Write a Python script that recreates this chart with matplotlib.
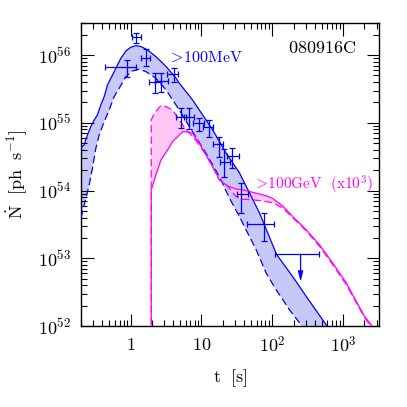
import matplotlib
matplotlib.use("Agg")
import matplotlib.pyplot as plt
import numpy as np

plt.rcParams['mathtext.fontset'] = 'cm'
plt.rcParams['font.family'] = 'serif'

# >100 MeV model band (upper = solid, lower = dashed)
t_hi = [0.20, 0.221, 0.246, 0.275, 0.307, 0.341, 0.381, 0.425, 0.473, 0.528, 0.621, 0.731,
        0.861, 1.01, 1.19, 1.40, 1.74, 2.28, 3.17, 4.39, 4.88, 7.5, 14.4, 22.4, 34.5, 66.1,
        115, 196, 303, 581, 640]
n_hi = [4.3e54, 4.7e54, 6.6e54, 8.8e54, 1.10e55, 1.31e55, 1.84e55, 2.44e55, 3.63e55, 4.56e55,
        6.4e55, 9.0e55, 1.15e56, 1.31e56, 1.38e56, 1.34e56, 1.19e56, 9.5e55, 6.8e55, 4.56e55,
        3.85e55, 2.18e55, 7.9e54, 3.56e54, 1.82e54, 4.67e53, 1.14e53, 5.3e52, 2.71e52, 1.03e52,
        8.7e51]
t_lo = [0.20, 0.234, 0.261, 0.290, 0.324, 0.361, 0.425, 0.500, 0.588, 0.692, 0.861, 1.07,
        1.33, 1.65, 2.28, 3.17, 3.93, 4.88, 6.77, 11.6, 18.0, 24.9, 34.5, 42.8, 59.4, 82.3,
        114, 176, 257, 277]
n_lo = [3.94e53, 7.7e53, 1.21e54, 2.13e54, 4.2e54, 6.6e54, 1.04e55, 1.55e55, 2.44e55, 3.24e55,
        4.82e55, 5.85e55, 6.2e55, 5.7e55, 4.56e55, 3.06e55, 2.18e55, 1.55e55, 8.8e54, 3.56e54,
        1.60e54, 7.7e53, 4.1e53, 2.62e53, 1.33e53, 6.0e52, 3.40e52, 1.72e52, 1.03e52, 8.7e51]

# >100 GeV model (x10^3), solid and dashed
t_gs = [1.96, 1.96, 2.28, 2.69, 3.34, 3.93, 5.44, 6.77, 7.53, 9.37, 11.6, 14.4, 18.0, 23.3,
        30.3, 38.4, 53.2, 82.3, 102, 141, 196, 303, 467, 719, 1114, 1542, 2023, 2512, 2700]
n_gs = [5e51, 1.02e54, 1.70e54, 2.83e54, 3.98e54, 5.3e54, 7.4e54, 7.3e54, 7.0e54, 5.0e54,
        3.36e54, 2.25e54, 1.44e54, 1.17e54, 1.06e54, 1.02e54, 9.4e53, 8.4e53, 7.6e53, 5.9e53,
        4.1e53, 2.62e53, 1.57e53, 8.4e52, 4.3e52, 2.29e52, 1.37e52, 1.03e52, 8.7e51]
t_gd = [1.96, 1.96, 2.17, 2.69, 3.00, 3.93, 4.88, 6.08, 7.53, 9.37, 11.6, 14.4, 18.0, 23.3,
        30.3, 38.4, 53.2, 73.6, 102, 141, 196, 303, 467, 719, 1114, 1542, 2023, 2450, 2700]
n_gd = [5e51, 1.10e55, 1.39e55, 1.80e55, 1.78e55, 1.55e55, 1.10e55, 7.9e54, 6.25e54, 4.7e54,
        3.36e54, 2.25e54, 1.44e54, 1.17e54, 8.3e53, 7.45e53, 7.3e53, 7.0e53, 6.6e53, 5.5e53,
        3.94e53, 2.53e53, 1.49e53, 7.96e52, 4.04e52, 2.19e52, 1.31e52, 1.0e52, 8.4e51]

# LAT data points
t_pt = [0.89, 1.19, 1.65, 2.24, 2.69, 4.06, 5.16, 6.77, 9.16, 12.7, 17.6, 21.1, 26.8, 36.5, 75.3]
t_lo_pt = [0.44, 1.05, 1.40, 1.84, 2.24, 3.23, 4.39, 5.75, 7.7, 10.4, 14.4, 18.4, 22.8, 32.3, 43.7]
t_hi_pt = [1.20, 1.40, 1.90, 2.69, 3.34, 4.62, 6.08, 7.96, 10.8, 14.4, 20.0, 25.5, 33.7, 44.8, 105]
n_pt = [6.6e55, 1.84e56, 9.0e55, 4.06e55, 4.16e55, 5.27e55, 1.24e55, 1.21e55, 1.01e55, 8.8e54,
        4.83e54, 2.67e54, 3.24e54, 8.9e53, 3.18e53]
n_lo_pt = [4.7e55, 1.53e56, 6.9e55, 2.8e55, 2.9e55, 4.06e55, 8.3e54, 8.0e54, 7.7e54, 6.1e54,
           3.17e54, 1.60e54, 2.13e54, 4.67e53, 1.80e53]
n_hi_pt = [8.5e55, 2.1e56, 1.22e56, 5.4e55, 5.5e55, 6.5e55, 1.64e55, 1.64e55, 1.17e55, 1.10e55,
           6.25e54, 4.07e54, 4.2e54, 1.29e54, 4.6e53]

# upper limit
t_ul, t_ul_lo, t_ul_hi = 251, 108, 456
n_ul, n_ul_tip = 1.15e53, 4.5e52

x_ticks = [1, 10, 100, 1000]
x_labels = ['$1$', '$10$', '$10^2$', '$10^3$']
y_ticks = [1e52, 1e53, 1e54, 1e55, 1e56]
y_labels = ['$10^{52}$', '$10^{53}$', '$10^{54}$', '$10^{55}$', '$10^{56}$']

blue = '#0000ff'
mag = '#ff00ff'

fig = plt.figure(figsize=(4.07, 4.07), dpi=100)
ax = fig.add_axes([0.199, 0.199, 0.732, 0.745])
ax.set_xscale('log')
ax.set_yscale('log')

ax.fill(t_hi + t_lo[::-1], n_hi + n_lo[::-1], color='#c8c8f8', lw=0, zorder=1)
ax.fill(t_gs + t_gd[::-1], n_gs + n_gd[::-1], color='#ffc8f2', lw=0, zorder=1)

ax.plot(t_hi, n_hi, color=blue, lw=0.9, zorder=3)
ax.plot(t_lo, n_lo, color=blue, lw=0.9, ls=(0, (6, 3)), zorder=3)
ax.plot(t_gs, n_gs, color=mag, lw=0.9, zorder=3)
ax.plot(t_gd, n_gd, color=mag, lw=0.9, ls=(0, (6, 3)), zorder=3)

t_pt = np.array(t_pt)
n_pt = np.array(n_pt)
xerr = [t_pt - np.array(t_lo_pt), np.array(t_hi_pt) - t_pt]
yerr = [n_pt - np.array(n_lo_pt), np.array(n_hi_pt) - n_pt]
ax.errorbar(t_pt, n_pt, xerr=xerr, yerr=yerr, fmt='none', ecolor=blue,
            elinewidth=0.9, capsize=2, capthick=0.9, zorder=4)
ax.errorbar([t_ul], [n_ul], xerr=[[t_ul - t_ul_lo], [t_ul_hi - t_ul]], fmt='none',
            ecolor=blue, elinewidth=0.9, capsize=2, capthick=0.9, zorder=4)
ax.annotate('', xy=(t_ul, n_ul_tip), xytext=(t_ul, n_ul),
            arrowprops=dict(arrowstyle='-|>,head_length=0.6,head_width=0.15',
                            color=blue, lw=0.9, shrinkA=0, shrinkB=0), zorder=4)

ax.set_xlim(0.2, 3200)
ax.set_ylim(1e52, 3e56)
ax.set_xticks(x_ticks)
ax.set_xticklabels(x_labels)
ax.set_yticks(y_ticks)
ax.set_yticklabels(y_labels)
ax.tick_params(which='both', direction='in', top=True, right=True, width=0.8)
ax.tick_params(which='major', length=9, labelsize=13, pad=7)
ax.tick_params(which='minor', length=4.5)
for s in ax.spines.values():
    s.set_linewidth(1.0)

ax.set_xlabel(r'$\mathrm{t\ \ [s]}$', fontsize=13)
ax.set_ylabel(r'$\dot{\mathrm{N}}\ \ \mathrm{[ph\ \ s^{-1}]}$', fontsize=13)
ax.xaxis.set_label_coords(0.5, -0.135)
ax.yaxis.set_label_coords(-0.175, 0.5)

ax.text(0.292, 0.887, r'$>\!\mathrm{100MeV}$', transform=ax.transAxes, color=blue,
        fontsize=11.5, va='center', ha='left')
ax.text(0.577, 0.465, r'$>\!\mathrm{100GeV\ \ (x10^3)}$', transform=ax.transAxes, color=mag,
        fontsize=11, va='center', ha='left')
ax.text(0.809, 0.918, r'$\mathrm{080916C}$', transform=ax.transAxes, color='black',
        fontsize=13, va='center', ha='center')

fig.savefig('out.png', dpi=100)
